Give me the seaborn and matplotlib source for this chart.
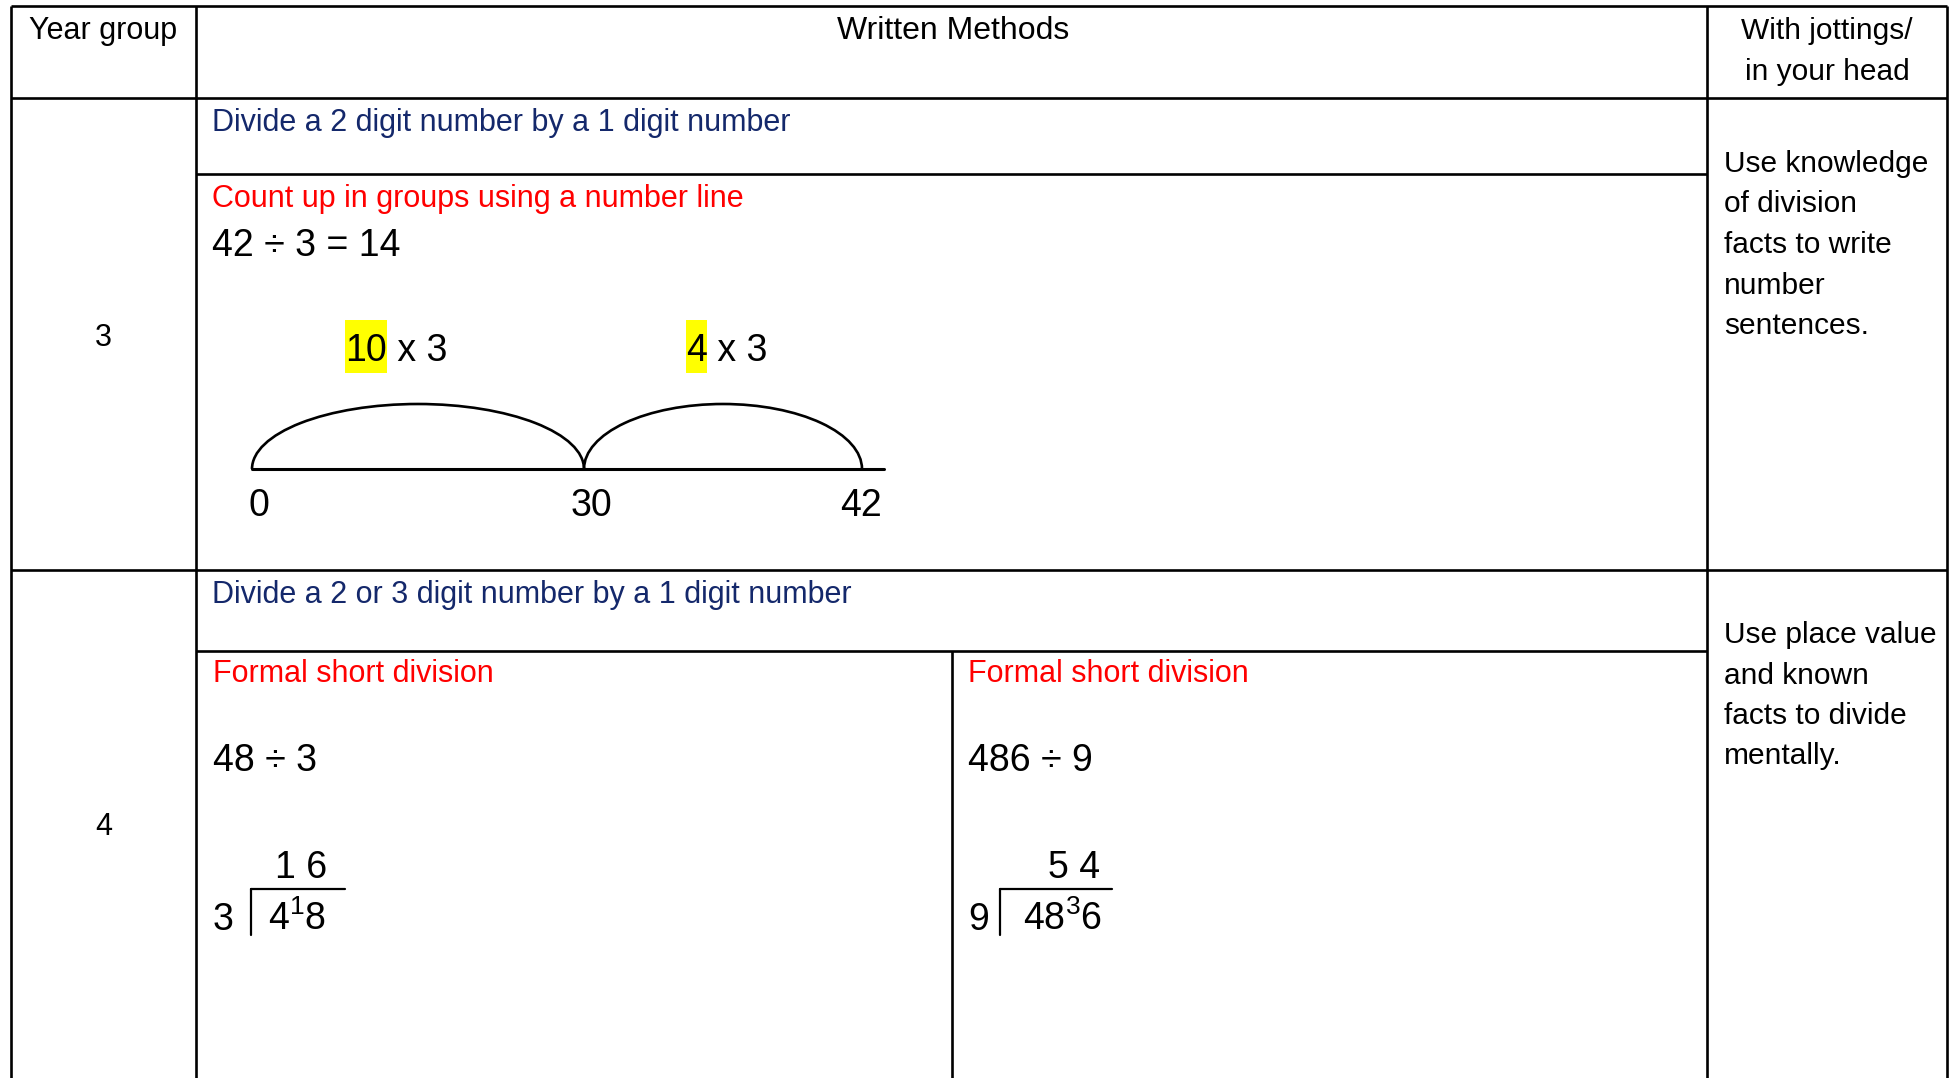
import matplotlib
matplotlib.use("Agg")
import matplotlib.pyplot as plt
from matplotlib.patches import Arc, Rectangle
import pandas as pd
import seaborn as sns

sns.set_theme(style="white")
plt.rcParams["font.family"] = ["Liberation Sans", "DejaVu Sans"]
plt.rcParams["mathtext.fontset"] = "custom"
plt.rcParams["mathtext.rm"] = "Liberation Sans"
plt.rcParams["figure.dpi"] = 100

# --- content of the table ---
header = ["Year group", "Written Methods", ["With jottings/", "in your head"]]
year_groups = ["3", "4"]
objectives = ["Divide a 2 digit number by a 1 digit number",
              "Divide a 2 or 3 digit number by a 1 digit number"]
method_titles = ["Count up in groups using a number line",
                 "Formal short division", "Formal short division"]
mental_notes = [["Use knowledge", "of division", "facts to write", "number", "sentences."],
                ["Use place value", "and known", "facts to divide", "mentally."]]

# year 3: counting up on a number line
y3_sum = "42 ÷ 3 = 14"
y3_divisor = "3"
jump_counts = ["10", "4"]
numline_labels = ["0", "30", "42"]

# year 4: short division
dividends = ["48", "486"]
divisors = ["3", "9"]
quotients = ["16", "54"]
carries = ["1", "3"]

# --- layout (pixels of the page) ---
W, H = 1950, 1078
X_LEFT, X_C1, X_C2, X_RIGHT, X_MID4 = 11, 196, 1707, 1947, 952
Y_TOP, Y_HEAD, Y_SUB3, Y_ROW4, Y_SUB4 = 6, 98, 174, 570, 651
NAVY = "#14286b"
RED = "#ff0000"
LW = 1.9
FS = 22
FS_NOTE = 21.5
FS_BIG = 27

fig = plt.figure(figsize=(W / 100, H / 100))
ax = fig.add_axes([0, 0, 1, 1])
ax.set_xlim(0, W)
ax.set_ylim(H, 0)
ax.axis("off")

# table rules
ax.hlines([Y_TOP, Y_HEAD, Y_ROW4], X_LEFT, X_RIGHT, color="black", lw=LW)
ax.hlines([Y_SUB3, Y_SUB4], X_C1, X_C2, color="black", lw=LW)
ax.vlines([X_LEFT, X_C1, X_C2, X_RIGHT], Y_TOP, H, color="black", lw=LW)
ax.vlines(X_MID4, Y_SUB4, H, color="black", lw=LW)

# header
ax.text((X_LEFT + X_C1) / 2, 39, header[0], ha="center", va="baseline", fontsize=FS, color="black")
ax.text((X_C1 + X_C2) / 2 + 2, 39, header[1], ha="center", va="baseline", fontsize=23, color="black")
for i, line in enumerate(header[2]):
    ax.text((X_C2 + X_RIGHT) / 2, 39 + 41 * i, line, ha="center", va="baseline", fontsize=FS_NOTE, color="black")

# year group labels
for label, yb in zip(year_groups, [346, 835]):
    ax.text((X_LEFT + X_C1) / 2, yb, label, ha="center", va="baseline", fontsize=22, color="black")

# objectives and method titles
for text, yb in zip(objectives, [131, 603]):
    ax.text(212, yb, text, ha="left", va="baseline", fontsize=FS, color=NAVY)
for text, (xl, yb) in zip(method_titles, [(212, 207), (213, 682), (968, 682)]):
    ax.text(xl, yb, text, ha="left", va="baseline", fontsize=FS, color=RED)

# mental notes
for lines, y0 in zip(mental_notes, [172, 643]):
    for i, line in enumerate(lines):
        ax.text(1724, y0 + 40.5 * i, line, ha="left", va="baseline", fontsize=FS_NOTE, color="black")

# year 3 number line
ax.text(212, 256, y3_sum, ha="left", va="baseline", fontsize=FS_BIG, color="black")

fig.canvas.draw()
renderer = fig.canvas.get_renderer()
inv = ax.transData.inverted()
for count, xl in zip(jump_counts, [345, 686]):
    t = ax.text(xl, 361, count, ha="left", va="baseline", fontsize=FS_BIG, color="black", zorder=3)
    bb = t.get_window_extent(renderer)
    (x0, _), (x1, _) = inv.transform([[bb.x0, bb.y0], [bb.x1, bb.y1]])
    ax.add_patch(Rectangle((x0, 320), x1 - x0, 53, facecolor="#ffff00", edgecolor="none", zorder=2))
    ax.text(x1, 361, " x " + y3_divisor, ha="left", va="baseline", fontsize=FS_BIG, color="black")

tick_x = [252, 584, 862]
line_df = pd.DataFrame({"x": [tick_x[0], 884], "y": [469, 469]})
sns.lineplot(data=line_df, x="x", y="y", color="black", lw=LW + 0.3, ax=ax, legend=False)
for a, b in zip(tick_x[:-1], tick_x[1:]):
    ax.add_patch(Arc(((a + b) / 2, 469), b - a, 2 * 65, theta1=180, theta2=360,
                     color="black", lw=LW))
label_x = [259, 591, 861]
for lab, xc in zip(numline_labels, label_x):
    ax.text(xc, 516, lab, ha="center", va="baseline", fontsize=FS_BIG, color="black")

# year 4 short division examples
col_x = [213, 968]
bracket_x = [251, 1000]
bracket_r = [345, 1112]
quot_r = [327, 1100]
div_l = [268, 1023]
for i in range(2):
    ax.text(col_x[i], 771, f"{dividends[i]} ÷ {divisors[i]}", ha="left", va="baseline",
            fontsize=FS_BIG, color="black")
    ax.text(quot_r[i], 878, " ".join(quotients[i]), ha="right", va="baseline",
            fontsize=FS_BIG, color="black")
    ax.text(col_x[i], 930, divisors[i], ha="left", va="baseline", fontsize=FS_BIG, color="black")
    ax.plot([bracket_x[i], bracket_x[i]], [935, 889], color="black", lw=1.6)
    ax.plot([bracket_x[i], bracket_r[i]], [889, 889], color="black", lw=1.6)
    d = dividends[i]
    ax.text(div_l[i], 930, r"$\mathregular{" + d[:-1] + "^{" + carries[i] + "}" + d[-1] + "}$",
            ha="left", va="baseline", fontsize=FS_BIG, color="black")

fig.savefig("out.png", dpi=100, facecolor="white")
